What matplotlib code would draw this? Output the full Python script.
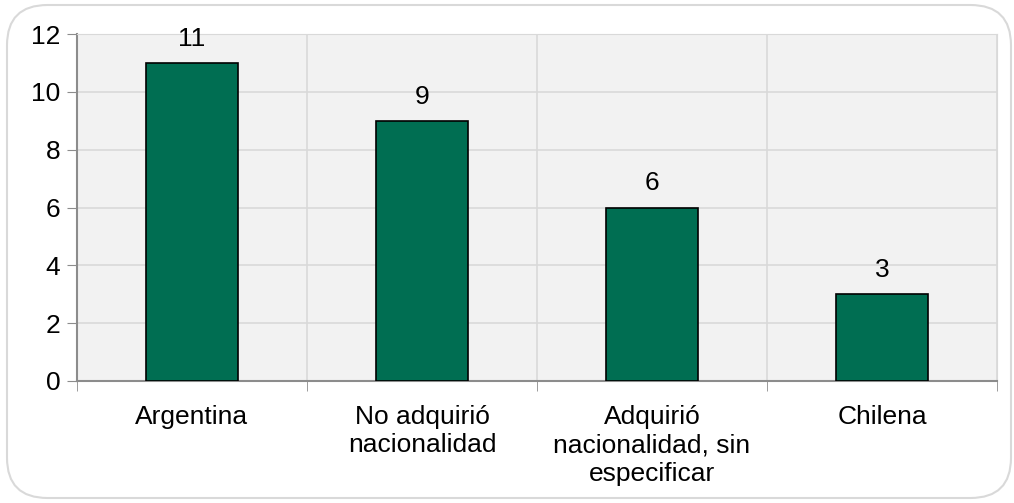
import matplotlib.pyplot as plt
from matplotlib.patches import FancyBboxPatch
import numpy as np

# categories and counts
categories = ["Argentina", "No adquirió\nnacionalidad", "Adquirió\nnacionalidad, sin\nespecificar", "Chilena"]
counts = [11, 9, 6, 3]
yticks = [0, 2, 4, 6, 8, 10, 12]

BAR_COLOR = "#006e52"
GRID_COLOR = "#d9d9d9"
AXIS_COLOR = "#8c8c8c"
FS = 19

plt.rcParams["font.family"] = ["Liberation Sans", "DejaVu Sans"]

fig = plt.figure(figsize=(10.14, 5.03), dpi=100)

# rounded frame around the whole chart
frame = FancyBboxPatch((7 / 1014, 5 / 503), 1004 / 1014, 493 / 503,
                       boxstyle="round,pad=0,rounding_size=0.04",
                       transform=fig.transFigure, facecolor="none",
                       edgecolor=GRID_COLOR, linewidth=1.5, mutation_aspect=2.0,
                       zorder=-1)
fig.patches.append(frame)

ax = fig.add_axes([77 / 1014, 1 - 381 / 503, 920 / 1014, 347 / 503])
ax.set_facecolor("#f2f2f2")

x = np.arange(len(categories))
bars = ax.bar(x, counts, width=0.4, color=BAR_COLOR, edgecolor="black", linewidth=1.2, zorder=3)

for xi, v in zip(x, counts):
    ax.text(xi, v + 0.42, str(v), ha="center", va="bottom", fontsize=FS)

ax.set_xlim(-0.5, len(categories) - 0.5)
ax.set_ylim(0, 12)
ax.set_yticks(yticks)
ax.tick_params(axis="y", labelsize=FS, length=7, color=AXIS_COLOR, pad=5)
ax.yaxis.grid(True, color=GRID_COLOR, linewidth=1.2, zorder=0)

ax.set_xticks(x)
ax.set_xticklabels(categories, fontsize=FS, linespacing=1.25)
ax.tick_params(axis="x", which="major", length=0, pad=17)
ax.set_xticks(np.arange(-0.5, len(categories), 1.0), minor=True)
ax.tick_params(axis="x", which="minor", length=7, color=AXIS_COLOR)
ax.xaxis.grid(True, which="minor", color=GRID_COLOR, linewidth=1.2, zorder=0)
ax.set_axisbelow(True)

for side in ["top", "right"]:
    ax.spines[side].set_color(GRID_COLOR)
for side in ["left", "bottom"]:
    ax.spines[side].set_color(AXIS_COLOR)
    ax.spines[side].set_linewidth(1.5)

fig.savefig("out.png", dpi=100)
